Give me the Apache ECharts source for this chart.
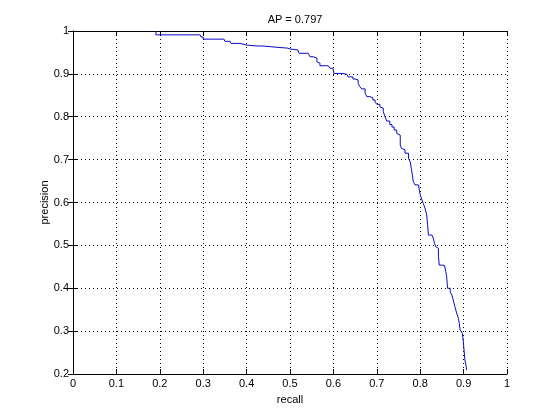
<!DOCTYPE html>
<html>
<head>
<meta charset="utf-8">
<script src="https://cdn.jsdelivr.net/npm/echarts@6/dist/echarts.min.js"></script>
<style>html,body{margin:0;padding:0;background:#fff;}#c{width:560px;height:420px;}</style>
</head>
<body>
<div id="c"></div>
<script>
var titleText = 'AP = 0.797';
var xTicks = [0, 0.1, 0.2, 0.3, 0.4, 0.5, 0.6, 0.7, 0.8, 0.9, 1];
var yTicks = [0.2, 0.3, 0.4, 0.5, 0.6, 0.7, 0.8, 0.9, 1];
var recall = [0.191,0.191,0.293,0.295,0.300,0.348,0.350,0.362,0.364,0.385,0.387,0.401,0.403,0.426,0.436,0.449,0.452,0.470,0.472,0.495,0.500,0.518,0.521,0.542,0.546,0.553,0.562,0.565,0.569,0.588,0.592,0.599,0.601,0.611,0.622,0.631,0.634,0.645,0.650,0.657,0.661,0.665,0.673,0.677,0.684,0.691,0.696,0.700,0.707,0.711,0.715,0.719,0.723,0.730,0.735,0.740,0.746,0.750,0.754,0.757,0.761,0.765,0.773,0.777,0.780,0.782,0.784,0.788,0.796,0.798,0.800,0.804,0.807,0.811,0.815,0.817,0.819,0.827,0.830,0.833,0.836,0.839,0.842,0.844,0.850,0.856,0.859,0.861,0.863,0.869,0.873,0.876,0.880,0.884,0.888,0.890,0.892,0.896,0.897,0.899,0.901,0.903,0.906,0.907];
var precision = [1.000,0.991,0.993,0.986,0.981,0.981,0.976,0.976,0.971,0.971,0.967,0.967,0.965,0.965,0.964,0.964,0.962,0.962,0.960,0.958,0.956,0.956,0.948,0.944,0.940,0.937,0.928,0.925,0.919,0.919,0.913,0.911,0.901,0.901,0.899,0.897,0.893,0.888,0.886,0.878,0.870,0.865,0.855,0.847,0.844,0.839,0.834,0.829,0.823,0.820,0.812,0.800,0.790,0.782,0.776,0.769,0.761,0.757,0.734,0.726,0.723,0.715,0.703,0.695,0.676,0.664,0.649,0.641,0.637,0.629,0.618,0.606,0.598,0.587,0.571,0.548,0.524,0.523,0.517,0.505,0.497,0.493,0.474,0.454,0.453,0.450,0.439,0.427,0.400,0.392,0.384,0.373,0.357,0.342,0.330,0.318,0.303,0.299,0.295,0.279,0.256,0.233,0.217,0.209];

var pts = recall.map(function (r, i) { return [r, precision[i]]; });
var fnt = 'Liberation Sans, Arial, Helvetica, sans-serif';
function fmt(v) { return String(+(+v).toFixed(1)); }

var chart = echarts.init(document.getElementById('c'), null, {renderer: 'canvas'});
var gridLine = {show: true, lineStyle: {color: '#000', width: 1, type: [1, 3]}};
var axLine = {show: true, lineStyle: {color: '#000', width: 1}};
var tickIn = {show: true, inside: true, length: 5, lineStyle: {color: '#000', width: 1}};
chart.setOption({
  animation: false,
  backgroundColor: '#fff',
  title: {
    text: titleText, left: 290, top: 9, textAlign: 'center',
    textStyle: {fontFamily: fnt, fontSize: 11, fontWeight: 'normal', color: '#000'}
  },
  grid: {left: 73, right: 53, top: 31, bottom: 46, containLabel: false},
  xAxis: [{
    type: 'value', min: 0, max: 1, interval: 0.1, position: 'bottom',
    name: 'recall', nameLocation: 'middle', nameGap: 20, nameMoveOverlap: false,
    nameTextStyle: {fontFamily: fnt, fontSize: 11, color: '#000'},
    axisLine: axLine, axisTick: tickIn, splitLine: gridLine,
    axisLabel: {fontFamily: fnt, fontSize: 11, color: '#000', margin: 4, formatter: fmt}
  }, {
    type: 'value', min: 0, max: 1, interval: 0.1, position: 'top',
    axisLine: axLine, axisTick: tickIn, splitLine: {show: false}, axisLabel: {show: false}
  }],
  yAxis: [{
    type: 'value', min: 0.2, max: 1, interval: 0.1, position: 'left',
    name: 'precision', nameLocation: 'middle', nameGap: 23, nameMoveOverlap: false,
    nameTextStyle: {fontFamily: fnt, fontSize: 11, color: '#000'},
    axisLine: axLine, axisTick: tickIn, splitLine: gridLine,
    axisLabel: {fontFamily: fnt, fontSize: 11, color: '#000', margin: 4, formatter: fmt}
  }, {
    type: 'value', min: 0.2, max: 1, interval: 0.1, position: 'right',
    axisLine: axLine, axisTick: tickIn, splitLine: {show: false}, axisLabel: {show: false}
  }],
  series: [{
    type: 'line', data: pts, showSymbol: false, symbol: 'none', step: 'end',
    lineStyle: {color: '#0a0ac8', width: 1}, silent: true
  }]
});
</script>
</body>
</html>
